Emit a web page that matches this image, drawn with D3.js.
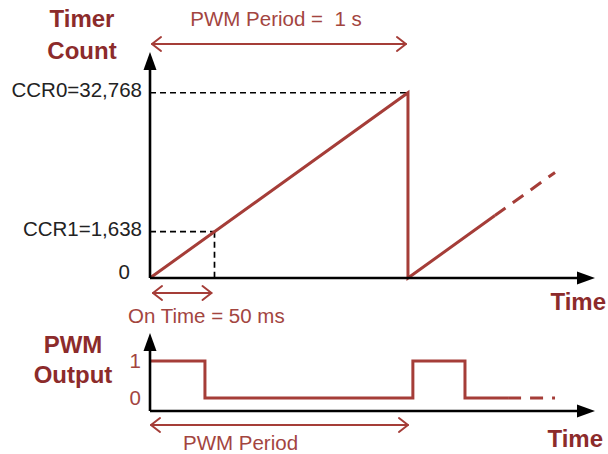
<!DOCTYPE html>
<html>
<head>
<meta charset="utf-8">
<script src="https://cdn.jsdelivr.net/npm/d3@7"></script>
<style>
  body { margin: 0; background: #fff; }
  svg { display: block; }
  .tick line { display: none; }
</style>
</head>
<body>
<div id="chart"></div>
<script>
// time in PWM periods, timer count as a fraction of CCR0 (diagram is schematic)
var countRamp = [[0, 0], [1, 1], [1, 0], [1.337, 0.337]]
var countRampNext = [[1.337, 0.337], [1.57, 0.57]]
var countTickVals = [0, 0.25, 1]
var countTickLabels = ["0", "CCR1=1,638", "CCR0=32,768"]
var onTimeEnd = 0.25

var pwmLine = [[0, 1], [0.213, 1], [0.213, 0], [1.019, 0], [1.019, 1], [1.221, 1], [1.221, 0], [1.388, 0]]
var pwmLineNext = [[1.388, 0], [1.57, 0]]
var pwmTickVals = [0, 1]
var pwmTickLabels = ["0", "1"]

var width = 608, height = 454
var lineColor = "#a53d38",
    textColor = "#a3453f",
    titleColor = "#8c2b2b"

var svg = d3.select("#chart").append("svg")
    .attr("width", width)
    .attr("height", height)

/*scales*/
var x = d3.scaleLinear().domain([0, 1.725]).range([150, 595])
var yTop = d3.scaleLinear().domain([0, 1.22]).range([278, 52])
var yBot = d3.scaleLinear().domain([-0.35, 1.76]).range([411, 333])

/*axis line with a filled arrow head at its end*/
function axisArrow(x1, y1, x2, y2) {
    var ang = Math.atan2(y2 - y1, x2 - x1), len = 18, hw = 6.5
    var bx = x2 - len * Math.cos(ang), by = y2 - len * Math.sin(ang)
    svg.append("line")
        .attr("x1", x1).attr("y1", y1).attr("x2", bx).attr("y2", by)
        .attr("stroke", "#000").attr("stroke-width", 2.6)
    svg.append("path")
        .attr("d", "M" + x2 + "," + y2 +
            "L" + (bx - hw * Math.sin(ang)) + "," + (by + hw * Math.cos(ang)) +
            "L" + (bx + hw * Math.sin(ang)) + "," + (by - hw * Math.cos(ang)) + "Z")
        .attr("fill", "#000")
}

/*double headed arrow with open chevrons*/
function spanArrow(x1, x2, y) {
    var g = svg.append("g")
        .attr("stroke", lineColor).attr("stroke-width", 2).attr("fill", "none")
        .attr("stroke-linecap", "round").attr("stroke-linejoin", "round")
    g.append("line").attr("x1", x1).attr("y1", y).attr("x2", x2).attr("y2", y)
    g.append("path").attr("d", "M" + (x1 + 9) + "," + (y - 7) + "L" + x1 + "," + y + "L" + (x1 + 9) + "," + (y + 7))
    g.append("path").attr("d", "M" + (x2 - 9) + "," + (y - 7) + "L" + x2 + "," + y + "L" + (x2 - 9) + "," + (y + 7))
}

/* ---------- top panel: timer count ---------- */
var guides = svg.append("g")
    .attr("stroke", "#000").attr("stroke-width", 1.7).attr("stroke-dasharray", "6,4")
guides.append("line")
    .attr("x1", x(0)).attr("x2", x(1)).attr("y1", yTop(1)).attr("y2", yTop(1))
guides.append("line")
    .attr("x1", x(0)).attr("x2", x(onTimeEnd)).attr("y1", yTop(countTickVals[1])).attr("y2", yTop(countTickVals[1]))
guides.append("line")
    .attr("x1", x(onTimeEnd)).attr("x2", x(onTimeEnd)).attr("y1", yTop(countTickVals[1])).attr("y2", yTop(0))

var topLine = d3.line().x(function(d) { return x(d[0]); }).y(function(d) { return yTop(d[1]); })
svg.append("path").datum(countRamp)
    .attr("d", topLine).attr("fill", "none")
    .attr("stroke", lineColor).attr("stroke-width", 3)
svg.append("path").datum(countRampNext)
    .attr("d", topLine).attr("fill", "none")
    .attr("stroke", lineColor).attr("stroke-width", 3).attr("stroke-dasharray", "13,9")

axisArrow(x(0), yTop(0), x(0), 52)
axisArrow(x(0), yTop(0), 595, yTop(0))

var yAxisTop = d3.axisLeft(yTop)
    .tickValues(countTickVals)
    .tickFormat(function(d, i) { return countTickLabels[i]; })
    .tickSize(0)
    .tickPadding(8)
var gTop = svg.append("g")
    .attr("transform", "translate(" + x(0) + ",0)")
    .call(yAxisTop)
gTop.select(".domain").remove()
gTop.selectAll("text")
    .attr("font-family", "Liberation Sans, Arial, sans-serif")
    .attr("font-size", "20.5px")
    .attr("fill", "#222")
    .attr("dy", "0.17em")
gTop.selectAll("text").filter(function(d) { return d === 0; })
    .attr("dx", "-12").attr("dy", "0")

spanArrow(x(0) + 2, x(1) - 2, 44)
spanArrow(x(0) + 3, x(onTimeEnd) - 3, 293)

svg.append("text")
    .attr("x", 276).attr("y", 26)
    .attr("text-anchor", "middle")
    .attr("font-family", "Liberation Sans, Arial, sans-serif")
    .attr("font-size", "20.5px")
    .attr("fill", textColor)
    .attr("xml:space", "preserve")
    .text("PWM Period =  1 s")

svg.append("text")
    .attr("x", 128).attr("y", 323)
    .attr("font-family", "Liberation Sans, Arial, sans-serif")
    .attr("font-size", "20.5px")
    .attr("fill", textColor)
    .text("On Time = 50 ms")

/* ---------- bottom panel: PWM output ---------- */
var botLine = d3.line().x(function(d) { return x(d[0]); }).y(function(d) { return yBot(d[1]); })
svg.append("path").datum(pwmLine)
    .attr("d", botLine).attr("fill", "none")
    .attr("stroke", lineColor).attr("stroke-width", 3)
svg.append("path").datum(pwmLineNext)
    .attr("d", botLine).attr("fill", "none")
    .attr("stroke", lineColor).attr("stroke-width", 3).attr("stroke-dasharray", "13,9")

axisArrow(x(0), yBot(-0.35), x(0), 333)
axisArrow(x(0), yBot(-0.35), 595, yBot(-0.35))

var yAxisBot = d3.axisLeft(yBot)
    .tickValues(pwmTickVals)
    .tickFormat(function(d, i) { return pwmTickLabels[i]; })
    .tickSize(0)
    .tickPadding(9)
var gBot = svg.append("g")
    .attr("transform", "translate(" + x(0) + ",0)")
    .call(yAxisBot)
gBot.select(".domain").remove()
gBot.selectAll("text")
    .attr("font-family", "Liberation Sans, Arial, sans-serif")
    .attr("font-size", "20.5px")
    .attr("fill", textColor)
    .attr("dy", "0.3em")

spanArrow(x(0) + 1, x(1), 425)

svg.append("text")
    .attr("x", 183).attr("y", 450)
    .attr("font-family", "Liberation Sans, Arial, sans-serif")
    .attr("font-size", "20.5px")
    .attr("fill", textColor)
    .text("PWM Period")

/* ---------- bold titles ---------- */
var titles = [
    {t: "Timer", x: 82, y: 27, a: "middle"},
    {t: "Count", x: 82, y: 59, a: "middle"},
    {t: "Time", x: 606, y: 310, a: "end"},
    {t: "PWM", x: 73, y: 353, a: "middle"},
    {t: "Output", x: 73, y: 383, a: "middle"},
    {t: "Time", x: 603, y: 447, a: "end"}
]
svg.selectAll(".title").data(titles).enter().append("text")
    .attr("class", "title")
    .attr("x", function(d) { return d.x; })
    .attr("y", function(d) { return d.y; })
    .attr("text-anchor", function(d) { return d.a; })
    .attr("font-family", "Liberation Sans, Arial, sans-serif")
    .attr("font-weight", "bold")
    .attr("font-size", "24px")
    .attr("fill", titleColor)
    .text(function(d) { return d.t; })
</script>
</body>
</html>
